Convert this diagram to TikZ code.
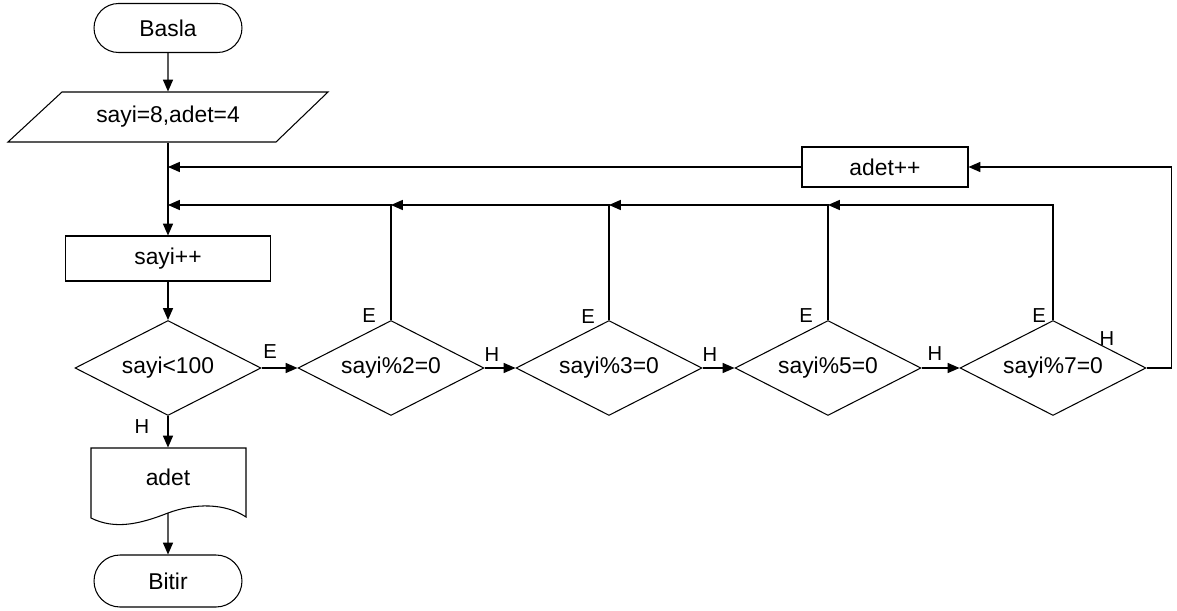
\documentclass[tikz,border=0pt]{standalone}
\usepackage{fontspec}
\setmainfont{Liberation Sans}
\usetikzlibrary{shapes.geometric,shapes.misc,arrows.meta}
\begin{document}
\begin{tikzpicture}[x=0.02cm,y=-0.02cm, line width=0.6pt,
 every node/.style={font=\fontsize{13}{15}\selectfont},
 term/.style={draw, rounded rectangle, minimum width=2.96cm, minimum height=0.98cm, inner sep=0},
 procbox/.style={draw, rectangle, inner sep=0},
 dec/.style={draw, diamond, minimum width=3.72cm, minimum height=1.9cm, inner sep=0, aspect=2},
 lbl/.style={font=\fontsize{11.5}{13}\selectfont, inner sep=0},
 arr/.style={-{Triangle[length=6.8pt,width=5.8pt]}}]
\useasboundingbox (0,0) rectangle (1177,611);
\node[term] (basla) at (168,28) {Basla};
\draw (62,92) -- (328,92) -- (276,142) -- (8,142) -- cycle;
\node[inner sep=0, minimum width=4cm, minimum height=1cm] (giris) at (168,117) {sayi=8,adet=4};
\node[procbox, minimum width=4.1cm, minimum height=0.9cm] (arttir) at (168,258.5) {sayi++};
\node[dec] (d1) at (168,368) {sayi<100};
\node[dec] (d2) at (391,368) {sayi\%2=0};
\node[dec] (d3) at (609,368) {sayi\%3=0};
\node[dec] (d4) at (828,368) {sayi\%5=0};
\node[dec] (d5) at (1053,368) {sayi\%7=0};
\node[procbox, minimum width=3.32cm, minimum height=0.8cm] (adetpp) at (885,167) {adet++};
\draw (91,448) -- (246,448) -- (246,517) .. controls (225,503) and (195,503) .. (168,513) .. controls (140,524) and (115,530) .. (91,518) -- cycle;
\node[inner sep=0, minimum width=3.1cm, minimum height=1.16cm] (cikti) at (168,477) {adet};
\coordinate (ciktiB) at (168,513);
\node[term, minimum height=1.04cm] (bitir) at (168,581) {Bitir};
\coordinate (top) at (0,205);
\draw[arr] (basla) -- (giris.north);
\draw[arr] (giris.south) -- (arttir.north);
\draw[arr] (arttir) -- (d1);
\draw[arr] (d1) -- (d2);
\draw[arr] (d2) -- (d3);
\draw[arr] (d3) -- (d4);
\draw[arr] (d4) -- (d5);
\draw[arr] (d1.south) -- (cikti.north);
\draw[arr] (ciktiB) -- (bitir);
\draw[arr] (adetpp.west) -- (adetpp.west -| giris.south);
\draw[arr] (d5.east) -- ++(25,0) |- (adetpp.east);
\draw[arr] (d5.north) |- (d4.north |- top);
\draw[arr] (d4.north) |- (d3.north |- top);
\draw[arr] (d3.north) |- (d2.north |- top);
\draw[arr] (d2.north) |- (giris.south |- top);
\node[lbl] (e1) at (270,352) {E};
\node[lbl] (h1) at (142,427) {H};
\node[lbl] (e2) at (369,316) {E};
\node[lbl] (h2) at (492,355) {H};
\node[lbl] (e3) at (588,317) {E};
\node[lbl] (h3) at (710,355) {H};
\node[lbl] (e4) at (806,316) {E};
\node[lbl] (h4) at (935,354) {H};
\node[lbl] (e5) at (1039,316) {E};
\node[lbl] (h5) at (1107,339) {H};
\end{tikzpicture}
\end{document}
